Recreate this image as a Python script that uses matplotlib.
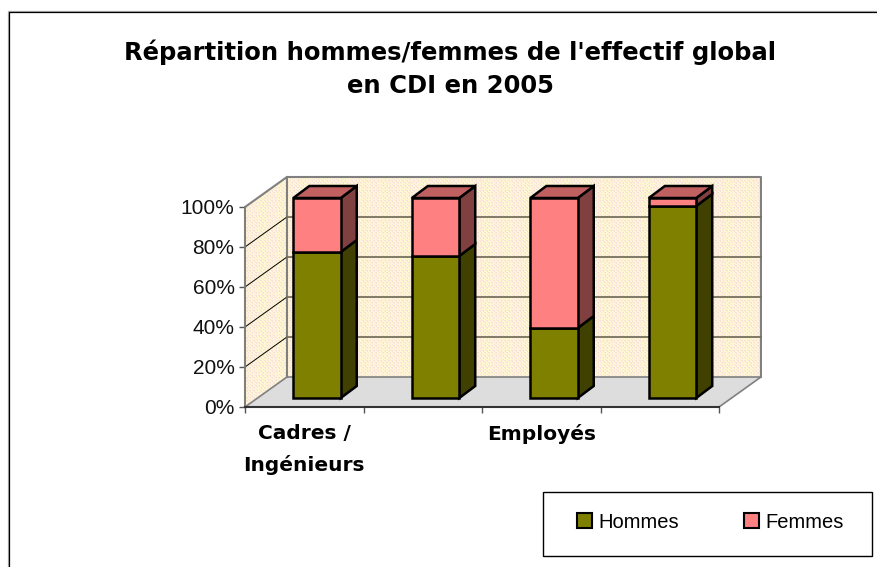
from matplotlib.lines import Line2D
from matplotlib.patches import Patch, Polygon, Rectangle
import matplotlib
import matplotlib.pyplot as plt
import numpy as np

matplotlib.use('Agg')
plt.rcParams['font.family'] = ['Liberation Sans', 'DejaVu Sans']

CATEGORIES = ["Cadres /\nIngénieurs", "", "Employés", ""]
HOMMES = [73, 71, 35, 96]
FEMMES = [27, 29, 65, 4]
Y_TICKS = [0, 20, 40, 60, 80, 100]

OLIVE = ('#808000', '#404000')
PINK = ('#ff8080', '#804040', '#c06060')

# 3d offsets, in data units (1 category = 118.5 px, 1% = 2 px)
WALL_DX, WALL_DY = 0.354, 15
BAR_DX, BAR_DY = 0.135, 6
BAR_SHIFT_X, BAR_SHIFT_Y = 0.108, 4.5
BAR_W = 0.4
BAR_LW = 1.8

W, H = 877, 567
fig = plt.figure(figsize=(W / 100, H / 100), dpi=100)
ax = fig.add_axes([245 / W, 1 - 407 / H, 474 / W, 200 / H])


def poly(points, face, edge='none', lw=0.0, z=1):
    p = Polygon(points, closed=True, facecolor=face, edgecolor=edge, linewidth=lw,
                joinstyle='miter', zorder=z, clip_on=False)
    ax.add_patch(p)
    return p


def wall_texture(clip):
    # dotted paper look of the excel walls
    base = np.array([[255, 246, 214], [250, 222, 216], [255, 250, 196], [246, 228, 226]]) / 255
    rows = np.arange(300)[:, None]
    cols = np.arange(600)[None, :]
    idx = (rows * 3 + cols * 5) // 2 % 4
    idx = np.where((rows // 2 + cols // 2) % 2 == 0, 0, idx)
    im = ax.imshow(base[idx], extent=(-0.1, 4.5, -5, 120), aspect='auto',
                   interpolation='nearest', zorder=0.5)
    im.set_clip_box(fig.bbox)
    im.set_clip_path(clip)


back = poly([(WALL_DX, WALL_DY), (4 + WALL_DX, WALL_DY), (4 + WALL_DX, 100 + WALL_DY),
             (WALL_DX, 100 + WALL_DY)], 'none', z=0.4)
side = poly([(0, 0), (WALL_DX, WALL_DY), (WALL_DX, 100 + WALL_DY), (0, 100)], 'none', z=0.4)
wall_texture(back)
wall_texture(side)

poly([(0, 0), (4, 0), (4 + WALL_DX, WALL_DY), (WALL_DX, WALL_DY)], '#dddddd', z=0.6)

# wall outlines
outline = [(0, 0), (0, 100), (WALL_DX, 100 + WALL_DY), (4 + WALL_DX, 100 + WALL_DY),
           (4 + WALL_DX, WALL_DY)]
ax.plot(*zip(*outline), color='#808080', lw=1.5, zorder=0.8, clip_on=False)
ax.plot([WALL_DX, WALL_DX], [WALL_DY, 100 + WALL_DY], color='#808080', lw=1.5, zorder=0.8, clip_on=False)
ax.plot([0, WALL_DX, 4 + WALL_DX, 4], [0, WALL_DY, WALL_DY, 0], color='#808080', lw=1.2, zorder=0.8, clip_on=False)

# gridlines
for t in Y_TICKS[1:-1]:
    ax.plot([0, WALL_DX], [t, t + WALL_DY], color='black', lw=0.7, zorder=0.9, clip_on=False)
    ax.plot([WALL_DX, 4 + WALL_DX], [t + WALL_DY, t + WALL_DY], color='#77705c', lw=1.3, zorder=0.9, clip_on=False)

# stacked bars
for i, (h, f) in enumerate(zip(HOMMES, FEMMES)):
    x0 = i + 0.5 - BAR_W / 2 + BAR_SHIFT_X
    x1 = x0 + BAR_W
    bottom = 0
    for val, cols in ((h, OLIVE), (f, PINK)):
        y0 = bottom + BAR_SHIFT_Y
        y1 = y0 + val
        poly([(x1, y0), (x1 + BAR_DX, y0 + BAR_DY), (x1 + BAR_DX, y1 + BAR_DY), (x1, y1)],
             cols[1], 'black', BAR_LW, 2)
        poly([(x0, y0), (x1, y0), (x1, y1), (x0, y1)], cols[0], 'black', BAR_LW, 3)
        bottom += val
    top = bottom + BAR_SHIFT_Y
    poly([(x0, top), (x1, top), (x1 + BAR_DX, top + BAR_DY), (x0 + BAR_DX, top + BAR_DY)],
         PINK[2], 'black', BAR_LW, 2)

ax.set_xlim(0, 4)
ax.set_ylim(0, 100)
ax.patch.set_visible(False)
for s in ('top', 'right'):
    ax.spines[s].set_visible(False)
ax.spines['left'].set_color('#808080')
ax.spines['left'].set_linewidth(1.2)
ax.spines['bottom'].set_color('#333333')
ax.spines['bottom'].set_linewidth(1.5)

ax.set_yticks(Y_TICKS)
ax.set_yticklabels([f"{t}%" for t in Y_TICKS], fontsize=15, color='#111111')
ax.tick_params(axis='y', length=4.5, width=1, color='#555555', pad=3)
ax.set_xticks(range(5))
ax.set_xticklabels([])
ax.tick_params(axis='x', which='major', length=4.5, width=1, color='#555555')
ax.set_xticks(np.arange(4) + 0.5, minor=True)
ax.set_xticklabels(CATEGORIES, minor=True, fontsize=14.5, fontweight='bold', linespacing=1.75,
                   family='DejaVu Sans')
ax.tick_params(axis='x', which='minor', length=0, pad=12)

fig.text(450 / W, 1 - 69 / H, "Répartition hommes/femmes de l'effectif global\nen CDI en 2005",
         ha='center', va='center', fontsize=17.5, fontweight='bold', linespacing=1.45,
         family='DejaVu Sans')

# legend frame is fixed, the entries sit inside it
fig.add_artist(Rectangle((543 / W, 1 - 556 / H), 329 / W, 64 / H, transform=fig.transFigure,
                         facecolor='white', edgecolor='black', linewidth=1.0))
handles = [Patch(facecolor=OLIVE[0], edgecolor='black', linewidth=1.5),
           Patch(facecolor=PINK[0], edgecolor='black', linewidth=1.5)]
leg = fig.legend(handles, ["Hommes", "Femmes"], ncol=2, loc='center left',
                 bbox_to_anchor=(577 / W, 1 - 522 / H), fontsize=14.5, frameon=False,
                 handlelength=0.75, handleheight=0.75, handletextpad=0.3, borderpad=0,
                 borderaxespad=0, columnspacing=3.25)

# chart frame, only the top and left edges are in the picture
for off, col in ((-1.2, '#b0b0b0'), (0, 'black')):
    fig.add_artist(Line2D([(9 + off) / W, (9 + off) / W, 1], [0, 1 - (12 + off) / H, 1 - (12 + off) / H],
                          color=col, lw=0.9, solid_joinstyle='miter'))

fig.savefig('out.png', dpi=100)
